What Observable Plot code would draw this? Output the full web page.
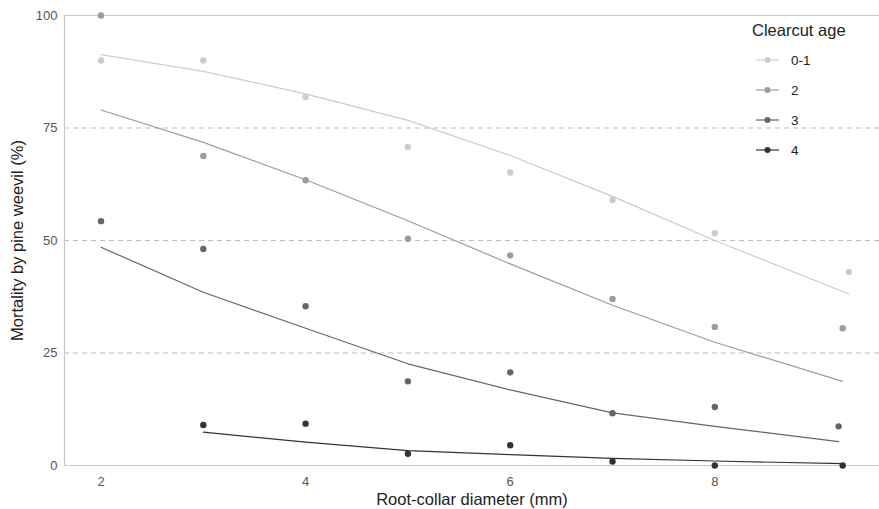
<!DOCTYPE html>
<html>
<head>
<meta charset="utf-8">
<script src="https://cdn.jsdelivr.net/npm/d3@7"></script>
<script src="https://cdn.jsdelivr.net/npm/@observablehq/plot@0.6"></script>
<style>
  html, body { margin: 0; padding: 0; background: #fff; }
  body { font-family: "Liberation Sans", Arial, sans-serif; }
  #wrap { position: relative; width: 879px; height: 509px; }
  #legend { position: absolute; left: 752px; top: 21px; color: #222; }
  #legend .title { font-size: 16.5px; margin-bottom: 5px; }
  #legend .item { display: flex; align-items: center; height: 30px; font-size: 13.5px; color: #222; }
  #legend svg { margin-right: 12px; margin-left: 4px; }
</style>
</head>
<body>
<div id="wrap"><div id="chart"></div><div id="legend"></div></div>
<script>
// Clearcut age groups and their grey shades
const groups = ["0-1", "2", "3", "4"];
const colors = ["#cccccc", "#9c9c9c", "#666666", "#333333"];

// Observed mortality (%) by root-collar diameter class (mm)
const xObs01 = [2, 3, 4, 5, 6, 7, 8, 9.31];
const yObs01 = [90, 90, 81.9, 70.8, 65.1, 59.0, 51.6, 43.0];
const xObs2 = [2, 3, 4, 5, 6, 7, 8, 9.25];
const yObs2 = [100, 68.8, 63.4, 50.4, 46.7, 37.0, 30.8, 30.5];
const xObs3 = [2, 3, 4, 5, 6, 7, 8, 9.21];
const yObs3 = [54.3, 48.1, 35.4, 18.7, 20.7, 11.6, 13.0, 8.7];
const xObs4 = [3, 4, 5, 6, 7, 8, 9.25];
const yObs4 = [9.0, 9.3, 2.6, 4.5, 0.9, 0.0, 0.0];

// Fitted (model) mortality (%) at the same diameters
const yFit01 = [91.3, 87.6, 82.6, 76.7, 68.9, 59.8, 50.0, 38.1];
const yFit2 = [79.0, 71.8, 63.5, 54.4, 44.8, 35.6, 27.4, 18.7];
const yFit3 = [48.5, 38.5, 30.5, 22.6, 16.8, 11.7, 8.7, 5.3];
const yFit4 = [7.4, 5.2, 3.3, 2.4, 1.6, 1.0, 0.4];

// Axis ticks
const xTicks = [2, 4, 6, 8];
const yTicks = [0, 25, 50, 75, 100];
const gridTicks = [25, 50, 75];
const xDomain = [1.643, 9.61];
const yDomain = [0, 100];
const xTitle = "Root-collar diameter (mm)";
const yTitle = "Mortality by pine weevil (%)";

const xs = [xObs01, xObs2, xObs3, xObs4];
const ysObs = [yObs01, yObs2, yObs3, yObs4];
const ysFit = [yFit01, yFit2, yFit3, yFit4];

const obs = [], fit = [];
groups.forEach((g, i) => {
  xs[i].forEach((x, j) => {
    obs.push({group: g, x, y: ysObs[i][j]});
    fit.push({group: g, x, y: ysFit[i][j]});
  });
});

const color = {domain: groups, range: colors};

const chart = Plot.plot({
  width: 879,
  height: 509,
  marginLeft: 64,
  marginRight: 0,
  marginTop: 15,
  marginBottom: 44,
  style: {fontFamily: "Liberation Sans, Arial, sans-serif", background: "#fff"},
  x: {domain: xDomain, ticks: xTicks, label: xTitle},
  y: {domain: yDomain, ticks: yTicks, label: yTitle},
  color,
  marks: [
    Plot.ruleY(gridTicks, {stroke: "#bdbdbd", strokeDasharray: "5,4", strokeWidth: 1}),
    Plot.ruleX([xDomain[0]], {stroke: "#c8c8c8", strokeWidth: 1.2}),
    Plot.ruleY(yDomain, {stroke: "#c8c8c8", strokeWidth: 1.2}),
    Plot.line(fit, {x: "x", y: "y", z: "group", stroke: d => d.group, strokeWidth: 1.2}),
    Plot.dot(obs, {x: "x", y: "y", fill: d => d.group, r: 3.2, stroke: "none"}),
    Plot.axisX({ticks: xTicks, tickSize: 0, tickPadding: 11, fontSize: 13, color: "#555",
      label: xTitle, labelAnchor: "center", labelArrow: false, labelOffset: 39}),
    Plot.axisY({ticks: yTicks, tickSize: 0, tickPadding: 7, fontSize: 13, color: "#555",
      label: yTitle, labelAnchor: "center", labelArrow: false, labelOffset: 53})
  ]
});
document.getElementById("chart").appendChild(chart);

// style axis titles darker and larger
chart.querySelectorAll("text").forEach(t => {
  const s = t.textContent.trim();
  if (s === xTitle || s === yTitle) {
    t.style.fontSize = "16.5px";
    t.style.fill = "#222";
  }
});

// Legend
const legend = document.getElementById("legend");
const title = document.createElement("div");
title.className = "title";
title.textContent = "Clearcut age";
legend.appendChild(title);
groups.forEach((g, i) => {
  const item = document.createElement("div");
  item.className = "item";
  item.innerHTML = `<svg width="23" height="10"><line x1="0" y1="5" x2="23" y2="5" stroke="${colors[i]}" stroke-width="1.2"/><circle cx="11.5" cy="5" r="3" fill="${colors[i]}"/></svg><span>${g}</span>`;
  legend.appendChild(item);
});
</script>
</body>
</html>
